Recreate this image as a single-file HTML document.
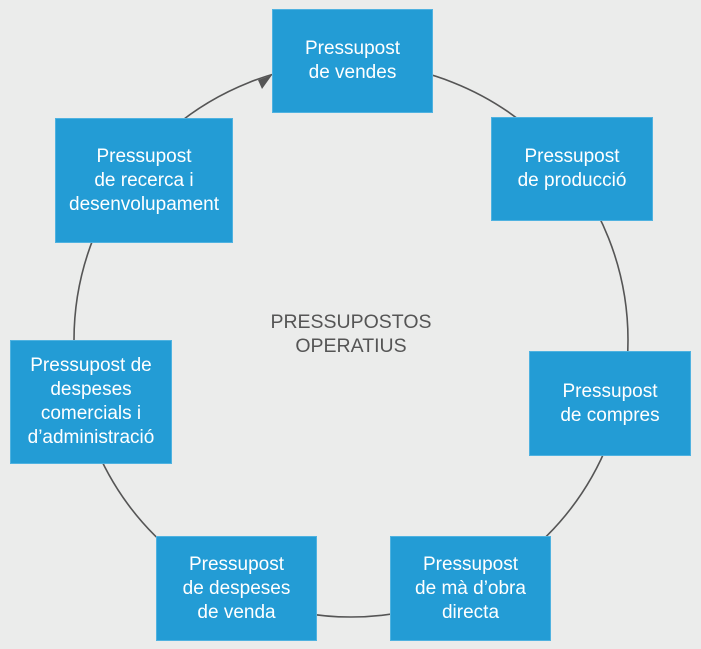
<!DOCTYPE html>
<html><head><meta charset="utf-8"><style>
body{margin:0;width:701px;height:649px;background:#ebeceb;position:relative;overflow:hidden;font-family:"Liberation Sans",sans-serif}
.b{position:absolute;background:#239cd5;border:1px solid #4fb2e0;box-sizing:border-box;color:#fff;font-size:19px;line-height:24px;text-align:center;display:flex;align-items:center;justify-content:center}
.c{position:absolute;left:200px;top:310px;width:302px;text-align:center;color:#555;font-size:19.5px;line-height:24px}
</style></head><body>
<svg width="701" height="649" style="position:absolute;left:0;top:0">
<circle cx="351" cy="340" r="277" fill="none" stroke="#555" stroke-width="1.6"/>
<path d="M258 80 L272 75 L262 89 Z" fill="#555"/>
</svg>
<div class="b" style="left:272px;top:9px;width:161px;height:104px">Pressupost<br>de vendes</div>
<div class="b" style="left:491px;top:117px;width:162px;height:104px">Pressupost<br>de producció</div>
<div class="b" style="left:529px;top:351px;width:162px;height:105px">Pressupost<br>de compres</div>
<div class="b" style="left:390px;top:536px;width:161px;height:105px">Pressupost<br>de mà d’obra<br>directa</div>
<div class="b" style="left:156px;top:536px;width:161px;height:105px">Pressupost<br>de despeses<br>de venda</div>
<div class="b" style="left:10px;top:340px;width:162px;height:124px">Pressupost de<br>despeses<br>comercials i<br>d’administració</div>
<div class="b" style="left:55px;top:118px;width:178px;height:125px">Pressupost<br>de recerca i<br>desenvolupament</div>
<div class="c">PRESSUPOSTOS<br>OPERATIUS</div>
</body></html>
